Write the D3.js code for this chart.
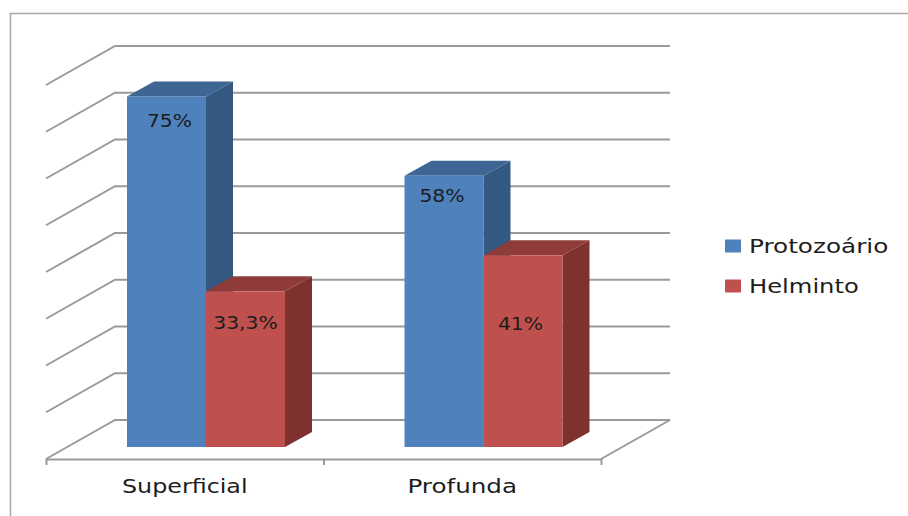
<!DOCTYPE html>
<html>
<head>
<meta charset="utf-8">
<script src="https://cdn.jsdelivr.net/npm/d3@7"></script>
<style>
  html, body { margin: 0; padding: 0; background: #fff; }
  svg { display: block; }
  text { font-family: "DejaVu Sans", sans-serif; fill: #1c1c1c; }
</style>
</head>
<body>
<div class="box"></div>
<script>
const categories = ['Superficial', 'Profunda'];
const seriesNames = ['Protozoário', 'Helminto'];
const protozoario = [75, 58];
const helminto = [33.3, 41];
const valueLabels = [['75%', '58%'], ['33,3%', '41%']];
const gridTicks = [0, 10, 20, 30, 40, 50, 60, 70, 80];

const seriesValues = [protozoario, helminto];
const frontColors = ['#4f81bd', '#c0504d'];
const topColors = ['#3e6695', '#8f3b39'];
const sideColors = ['#335981', '#7d3230'];

const svg = d3.select('.box')
              .append('svg')
              .attr('width', 908)
              .attr('height', 516);

// The chart text is set wide, so stretch each string horizontally
function stretch(selection, factors) {
    selection.each(function(d, i) {
        const len = this.getComputedTextLength();
        d3.select(this)
          .attr('textLength', len * factors[i])
          .attr('lengthAdjust', 'spacingAndGlyphs');
    });
}

// Outer chart border, open on the right and the bottom
svg.append('path')
   .attr('d', 'M10.5,516V13.5H908')
   .attr('fill', 'none')
   .attr('stroke', '#a8a8a8')
   .attr('stroke-width', 1.5);

// Dimensions of the 3D box
const floor = {left: 46, right: 601, front: 459, depthX: 69, depthY: -39};
const bar = {base: 447, depthX: 27, depthY: -15, groupStart: 81, groupWidth: 158};

const y = d3.scaleLinear()
            .domain([0, 80])
            .range([floor.front + floor.depthY, floor.front + floor.depthY - 374]);

const x = d3.scaleBand()
            .domain(categories)
            .range([floor.left, floor.right]);

const xInner = d3.scaleBand()
                 .domain(seriesNames)
                 .range([bar.groupStart, bar.groupStart + bar.groupWidth]);

const barHeight = v => y(0) - y(v);

// Back wall and left wall gridlines
const gridStroke = {stroke: '#9a9a9a', width: 2};
const grid = svg.append('g')
                .attr('fill', 'none')
                .attr('stroke', gridStroke.stroke)
                .attr('stroke-width', gridStroke.width);

grid.selectAll('path')
    .data(gridTicks)
    .enter()
    .append('path')
    .attr('d', d => {
        const backY = y(d);
        const x0 = floor.left, x1 = floor.left + floor.depthX, x2 = floor.right + floor.depthX;
        return `M${x0},${backY - floor.depthY}L${x1},${backY}H${x2}`;
    });

// Right edge of the floor
grid.append('path')
    .attr('d', `M${floor.right},${floor.front}l${floor.depthX},${floor.depthY}`);

// Front axis: tick marks sit on the band edges, labels on the band centres
const edgeScale = d3.scaleLinear().domain([0, categories.length]).range([floor.left, floor.right]);

const axisEdges = svg.append('g')
                     .attr('transform', `translate(0, ${floor.front})`)
                     .call(d3.axisBottom(edgeScale)
                             .tickValues(d3.range(categories.length + 1))
                             .tickSize(6)
                             .tickSizeOuter(0)
                             .tickFormat(''));
axisEdges.selectAll('path, line')
         .attr('stroke', gridStroke.stroke)
         .attr('stroke-width', gridStroke.width);

const axisLabels = svg.append('g')
                      .attr('transform', `translate(0, ${floor.front})`)
                      .call(d3.axisBottom(x).tickSize(0).tickPadding(20));
axisLabels.select('.domain').remove();
axisLabels.selectAll('text')
          .style('font-family', '"DejaVu Sans", sans-serif')
          .style('font-size', '20px')
          .attr('fill', '#1c1c1c')
          .call(stretch, [1.19, 1.23]);

// Bars: three faces each, series drawn in order so the red one overlaps the blue side
seriesNames.forEach((name, s) => {
    const group = svg.append('g').attr('class', 'serie');
    const bars = seriesValues[s].map((v, i) => ({
        v,
        x0: x(categories[i]) + xInner(name),
        w: xInner.bandwidth(),
        h: barHeight(v)
    }));

    group.selectAll('.side')
         .data(bars)
         .enter()
         .append('path')
         .attr('class', 'side')
         .attr('fill', sideColors[s])
         .attr('d', d => {
             const xr = d.x0 + d.w, top = bar.base - d.h;
             return `M${xr},${top}l${bar.depthX},${bar.depthY}V${bar.base + bar.depthY}L${xr},${bar.base}Z`;
         });

    group.selectAll('.top')
         .data(bars)
         .enter()
         .append('path')
         .attr('class', 'top')
         .attr('fill', topColors[s])
         .attr('d', d => {
             const top = bar.base - d.h;
             return `M${d.x0},${top}l${bar.depthX},${bar.depthY}h${d.w}l${-bar.depthX},${-bar.depthY}Z`;
         });

    group.selectAll('.front')
         .data(bars)
         .enter()
         .append('rect')
         .attr('class', 'front')
         .attr('fill', frontColors[s])
         .attr('x', d => d.x0)
         .attr('y', d => bar.base - d.h)
         .attr('width', d => d.w)
         .attr('height', d => d.h);
});

// Value labels, nudged from the top centre of each bar
const labelOffsetsY = [[31, 26], [38, 75]];
const labelOffsetsX = [[3, -2], [0, -2.5]];
seriesNames.forEach((name, s) => {
    svg.append('g')
       .selectAll('text')
       .data(seriesValues[s])
       .enter()
       .append('text')
       .attr('x', (d, i) => x(categories[i]) + xInner(name) + xInner.bandwidth() / 2 + labelOffsetsX[s][i])
       .attr('y', (d, i) => bar.base - barHeight(d) + labelOffsetsY[s][i])
       .attr('text-anchor', 'middle')
       .attr('font-size', 18)
       .text((d, i) => valueLabels[s][i])
       .call(stretch, [1.13, 1.13]);
});

// Legend
const legendY = d3.scalePoint().domain(seriesNames).range([246, 286]);
const legend = svg.append('g')
                  .selectAll('g')
                  .data(seriesNames)
                  .enter()
                  .append('g')
                  .attr('transform', d => `translate(725, ${legendY(d)})`);

legend.append('rect')
      .attr('y', -6.5)
      .attr('width', 16)
      .attr('height', 13)
      .attr('fill', (d, i) => frontColors[i]);

legend.append('text')
      .attr('x', 24)
      .attr('y', 7)
      .attr('font-size', 20)
      .text(d => d)
      .call(stretch, [1.235, 1.21]);
</script>
</body>
</html>
